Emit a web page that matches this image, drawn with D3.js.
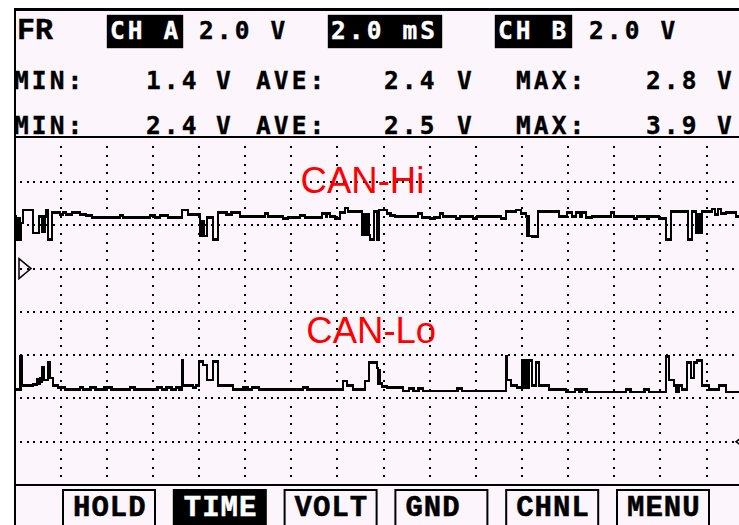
<!DOCTYPE html>
<html>
<head>
<meta charset="utf-8">
<script src="https://cdn.jsdelivr.net/npm/d3@7"></script>
<style>
  html, body { margin: 0; padding: 0; background: #fff; overflow: hidden; }
  svg { display: block; }
</style>
</head>
<body>
<div id="scope"></div>
<script>
// readout values
const statLabels = ["MIN:", "AVE:", "MAX:"];
const statsA = [1.4, 2.4, 2.8];
const statsB = [2.4, 2.5, 3.9];
const voltsPerDiv = 2.0;
const msPerDiv = 2.0;
const buttons = ["HOLD", "TIME", "VOLT", "GND", "CHNL", "MENU"];
const activeButton = "TIME";
const traceLabels = ["CAN-Hi", "CAN-Lo"];

// [time ms, volts] step points, value holds until next point
const canHi = [
  [0, 2.4], [0.07, 1.35], [0.15, 2.3], [0.21, 1.35], [0.28, 2.1], [0.36, 2.7],
  [0.80, 1.65], [1.06, 2.4], [1.19, 1.7], [1.24, 2.4], [1.28, 1.7], [1.32, 2.4], [1.37, 2.7],
  [1.45, 1.35], [1.63, 2.6], [1.97, 2.5], [2.1, 2.6], [2.23, 2.5], [2.49, 2.6], [2.84, 2.5],
  [3.10, 2.45], [3.36, 2.35], [4.57, 2.45], [4.70, 2.35], [5.87, 2.45], [6.09, 2.35],
  [6.31, 2.45], [6.65, 2.35], [7.26, 2.7], [7.52, 2.5], [8.04, 1.5], [8.13, 2.2], [8.21, 1.5],
  [8.34, 2.35], [8.60, 1.35], [8.82, 2.6], [9.2, 2.5], [9.4, 2.6], [9.77, 2.4],
  [10.86, 2.55], [10.99, 2.4], [11.64, 2.3], [11.86, 2.35], [12.38, 2.45], [12.59, 2.35],
  [13.33, 2.55], [13.5, 2.4], [13.55, 2.55], [13.68, 2.4], [13.89, 2.3], [14.11, 2.6],
  [14.33, 2.8], [14.46, 2.65], [15.06, 1.55], [15.11, 2.5], [15.19, 1.55], [15.28, 2.5],
  [15.35, 1.55], [15.41, 1.35], [15.58, 2.65], [15.71, 1.35], [15.80, 2.7], [16.15, 2.55],
  [16.3, 2.45], [16.49, 2.4], [17.49, 2.55], [17.66, 2.35], [18.01, 2.3], [18.2, 2.35],
  [18.44, 2.55], [18.57, 2.4], [19.14, 2.3], [19.31, 2.4], [19.87, 2.3], [20.05, 2.4],
  [21.09, 2.3], [21.30, 2.65], [21.74, 2.7], [21.95, 2.55], [22.17, 2.4], [22.22, 1.5],
  [22.26, 2.4], [22.30, 1.5], [22.43, 1.47], [22.69, 2.65], [23.60, 2.4], [23.95, 2.6],
  [24.17, 2.4], [24.34, 2.6], [24.52, 2.4], [24.6, 2.6], [24.77, 2.35], [25.03, 2.4],
  [25.86, 2.6], [25.99, 2.4], [26.85, 2.3], [26.98, 2.4], [27.42, 2.3], [27.50, 2.4],
  [27.94, 2.3], [28.24, 1.35], [28.46, 2.65], [29.19, 1.35], [29.37, 2.65], [29.54, 1.65],
  [29.63, 2.5], [29.71, 1.65], [29.80, 2.65], [30.23, 2.75], [30.36, 2.5], [30.49, 2.75],
  [30.62, 2.55], [30.84, 2.6], [31.27, 2.4], [32, 2.4]
];

const canLo = [
  [0, 2.4], [0.27, 3.95], [0.33, 2.6], [0.81, 2.65], [0.98, 2.75], [1.0, 2.9], [1.05, 2.7],
  [1.1, 2.95], [1.15, 2.75], [1.2, 3.45], [1.28, 2.85], [1.45, 3.65], [1.54, 2.95],
  [1.67, 2.6], [1.89, 2.5], [2.19, 2.4], [2.84, 2.5], [2.97, 2.4], [3.3, 2.5], [3.5, 2.4],
  [3.9, 2.5], [4.2, 2.4], [5.0, 2.5], [5.2, 2.4], [6.2, 2.5], [6.4, 2.4], [6.6, 2.5],
  [6.8, 2.4], [7.0, 2.5], [7.15, 2.4], [7.26, 3.75], [7.30, 2.6], [7.74, 2.5], [7.87, 2.6],
  [8.0, 3.7], [8.17, 3.55], [8.34, 2.85], [8.60, 3.7], [8.82, 2.6], [9.47, 2.4], [9.9, 2.5],
  [10.1, 2.4], [10.3, 2.5], [10.6, 2.4], [12.5, 2.5], [12.7, 2.4], [14.24, 2.8], [14.41, 2.6],
  [14.67, 2.4], [15.19, 2.8], [15.37, 3.65], [15.71, 3.4], [15.75, 2.7], [15.8, 3.3],
  [15.85, 2.7], [15.93, 2.55], [16.15, 2.5], [16.84, 2.35], [17.1, 2.45], [17.3, 2.35],
  [17.5, 2.45], [17.7, 2.35], [19.2, 2.45], [19.4, 2.35], [21.30, 3.95], [21.35, 2.85],
  [21.52, 2.6], [21.78, 2.5], [22.0, 3.75], [22.1, 2.5], [22.15, 3.75], [22.25, 2.5],
  [22.3, 3.75], [22.43, 2.6], [22.61, 3.65], [22.74, 2.6], [23.17, 2.4], [23.91, 2.3],
  [24.3, 2.4], [24.5, 2.3], [24.6, 2.4], [24.8, 2.3], [26.5, 2.4], [26.7, 2.3], [27.3, 2.4],
  [27.5, 2.3], [28.24, 3.95], [28.37, 2.85], [28.59, 2.6], [28.7, 2.3], [28.8, 2.6],
  [28.94, 2.4], [29.15, 3.65], [29.32, 2.95], [29.45, 3.65], [29.58, 3.75], [29.80, 2.6],
  [30.10, 2.4], [30.53, 2.6], [30.84, 2.3], [32, 2.3]
];

const W = 739, H = 525;
const gridLeft = 14.5, gridTop = 138.7, gridBottom = 485;
const divW = 46.14, divH = (gridBottom - gridTop) / 8;
const bg = "#fcf6fc";
const mono = "'DejaVu Sans Mono', monospace";
const slab = "'Liberation Mono', 'Courier New', monospace";

const svg = d3.select("#scope").append("svg")
    .attr("width", W)
    .attr("height", H);

// 16 divisions across, 8 down
const x = d3.scaleLinear().domain([0, 16 * msPerDiv]).range([gridLeft, gridLeft + 16 * divW]);
// channel A ground on 3rd line, channel B ground on 7th line
const yA = d3.scaleLinear().domain([-5 * voltsPerDiv, 3 * voltsPerDiv]).range([gridBottom, gridTop]);
const yB = d3.scaleLinear().domain([-1 * voltsPerDiv, 7 * voltsPerDiv]).range([gridBottom, gridTop]);

svg.append("rect")
    .attr("x", 15).attr("y", 10)
    .attr("width", W).attr("height", H)
    .attr("fill", bg);

// grid dots
const g = svg.append("g").attr("fill", "#000");
const hLines = d3.range(-4, 3).map(d => yA(d * voltsPerDiv));
const vLines = d3.range(1, 16).map(d => x(d * msPerDiv));

hLines.forEach(yy => {
    const pts = d3.range(0, 120).map(i => gridLeft + i * divW / 7).filter(p => p > 17 && p < W);
    g.selectAll(null)
        .data(pts)
        .enter()
        .append("rect")
        .attr("x", d => Math.round(d) - 1)
        .attr("y", Math.round(yy) - 1)
        .attr("width", 2).attr("height", 2);
});

vLines.forEach(xx => {
    const pts = d3.range(1, 40).map(i => gridTop + i * divH / 5).filter(p => p < gridBottom - 2);
    g.selectAll(null)
        .data(pts)
        .enter()
        .append("rect")
        .attr("x", Math.round(xx) - 1)
        .attr("y", d => Math.round(d) - 1)
        .attr("width", 2).attr("height", 2);
});

// frame lines
const frame = svg.append("g").attr("stroke", "#000").attr("shape-rendering", "crispEdges");
frame.append("line").attr("x1", 14).attr("x2", W).attr("y1", 9.5).attr("y2", 9.5).attr("stroke-width", 2.5);
frame.append("line").attr("x1", 15).attr("x2", 15).attr("y1", 9).attr("y2", H).attr("stroke-width", 2.5);
frame.append("line").attr("x1", 14).attr("x2", W).attr("y1", 137).attr("y2", 137).attr("stroke-width", 2);
frame.append("line").attr("x1", 14).attr("x2", W).attr("y1", 485).attr("y2", 485).attr("stroke-width", 2);

// traces
svg.append("clipPath").attr("id", "screen")
    .append("rect").attr("x", 16).attr("y", gridTop).attr("width", W).attr("height", gridBottom - gridTop);

const lineA = d3.line().x(d => x(d[0])).y(d => yA(d[1])).curve(d3.curveStepAfter);
const lineB = d3.line().x(d => x(d[0])).y(d => yB(d[1])).curve(d3.curveStepAfter);

const traces = svg.append("g").attr("clip-path", "url(#screen)");
[[lineA, canHi], [lineB, canLo]].forEach(([ln, data]) => {
    traces.append("path")
        .attr("d", ln(data))
        .attr("fill", "none")
        .attr("stroke", "#000")
        .attr("stroke-width", 2.6)
        .attr("stroke-linejoin", "miter")
        .attr("shape-rendering", "crispEdges");
});

// ground markers
svg.append("path")
    .attr("d", `M19,${yA(0) - 10}L31,${yA(0)}L19,${yA(0) + 10}Z`)
    .attr("fill", "none").attr("stroke", "#000").attr("stroke-width", 1.5);
svg.append("path")
    .attr("d", `M747,${yB(0) - 8}L736,${yB(0)}L747,${yB(0) + 8}`)
    .attr("fill", "none").attr("stroke", "#000").attr("stroke-width", 1.5);

// red trace labels
svg.append("text")
    .attr("x", x(12.4)).attr("y", yA(3.5))
    .attr("font-family", "'Liberation Sans', Arial, sans-serif")
    .attr("font-size", 36.5)
    .attr("fill", "#ff0000")
    .text(traceLabels[0]);
svg.append("text")
    .attr("x", x(12.65)).attr("y", yB(4.55))
    .attr("font-family", "'Liberation Sans', Arial, sans-serif")
    .attr("font-size", 36.5)
    .attr("fill", "#ff0000")
    .text(traceLabels[1]);

// header
const hdr = svg.append("g")
    .attr("font-family", mono)
    .attr("font-weight", "bold")
    .attr("font-size", 24.5)
    .attr("letter-spacing", 3.1)
    .attr("stroke", "#000")
    .attr("stroke-width", 0.4)
    .attr("fill", "#000");

hdr.append("text").attr("x", 17).attr("y", 38.5)
    .attr("font-family", slab).attr("font-size", 30).attr("letter-spacing", 0)
    .text("FR");

const boxes = [
    {x: 107, w: 76, label: "CH A"},
    {x: 328, w: 114, label: `${msPerDiv.toFixed(1)} mS`},
    {x: 495, w: 77, label: "CH B"}
];
boxes.forEach(b => {
    hdr.append("rect").attr("x", b.x).attr("y", 15).attr("width", b.w).attr("height", 33).attr("fill", "#000");
    hdr.append("text").attr("x", b.x + 3).attr("y", 38.5).attr("fill", "#fff").attr("stroke", "#fff").text(b.label);
});
hdr.append("text").attr("x", 199).attr("y", 38.5).text(`${voltsPerDiv.toFixed(1)} V`);
hdr.append("text").attr("x", 589).attr("y", 38.5).text(`${voltsPerDiv.toFixed(1)} V`);

const labelX = [14, 256, 516], valueX = [146, 384, 646], unitX = [216, 457, 717];
[statsA, statsB].forEach((stats, row) => {
    const yy = row === 0 ? 88.5 : 133.5;
    stats.forEach((v, i) => {
        hdr.append("text").attr("x", labelX[i]).attr("y", yy).text(statLabels[i]);
        hdr.append("text").attr("x", valueX[i]).attr("y", yy).text(d3.format(".1f")(v));
        hdr.append("text").attr("x", unitX[i]).attr("y", yy).text("V");
    });
});

// soft keys
const keys = svg.append("g");
buttons.forEach((b, i) => {
    const bx = 63 + i * 110.8;
    const on = b === activeButton;
    keys.append("rect")
        .attr("x", bx).attr("y", 490)
        .attr("width", 92).attr("height", 50)
        .attr("fill", on ? "#000" : "none")
        .attr("stroke", "#000").attr("stroke-width", 2);
    keys.append("text")
        .attr("x", bx + 10).attr("y", 515.5)
        .attr("font-family", slab)
        .attr("font-weight", "bold")
        .attr("font-size", 29)
        .attr("letter-spacing", 1)
        .attr("stroke", on ? "#fff" : "#000")
        .attr("stroke-width", 0.5)
        .attr("fill", on ? "#fff" : "#000")
        .text(b);
});
</script>
</body>
</html>
